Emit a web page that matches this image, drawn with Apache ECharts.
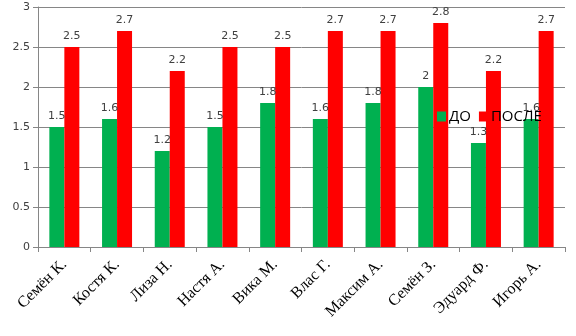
<!DOCTYPE html>
<html>
<head>
<meta charset="utf-8">
<script src="https://cdn.jsdelivr.net/npm/echarts@6/dist/echarts.min.js"></script>
<style>
  html, body { margin: 0; padding: 0; background: #fff; }
  #chart { width: 576px; height: 336px; }
</style>
</head>
<body>
<div id="chart"></div>
<script>
// Students and their scores before and after
const students = ['Семён К.', 'Костя К.', 'Лиза Н.', 'Настя А.', 'Вика М.', 'Влас Г.', 'Максим А.', 'Семён З.', 'Эдуард Ф.', 'Игорь А.'];
const before = [1.5, 1.6, 1.2, 1.5, 1.8, 1.6, 1.8, 2, 1.3, 1.6];
const after = [2.5, 2.7, 2.2, 2.5, 2.5, 2.7, 2.7, 2.8, 2.2, 2.7];
const seriesNames = ['ДО', 'ПОСЛЕ'];

const chart = echarts.init(document.getElementById('chart'));
const labelStyle = {
  show: true,
  position: 'top',
  distance: 5,
  color: '#404040',
  fontFamily: 'DejaVu Sans',
  fontSize: 11
};
chart.setOption({
  animation: false,
  legend: {
    left: 432,
    top: 104,
    itemWidth: 9,
    itemHeight: 10,
    itemGap: 8,
    icon: 'rect',
    textStyle: { fontFamily: 'Open Sans', fontSize: 15, color: '#000', padding: [0, 0, 0, -2] },
    data: seriesNames
  },
  grid: { left: 38, right: 11, top: 7, bottom: 89, containLabel: false },
  xAxis: {
    type: 'category',
    data: students,
    axisLine: { lineStyle: { color: '#868686' } },
    axisTick: { show: true, length: 5, lineStyle: { color: '#868686' } },
    axisLabel: {
      rotate: 45,
      margin: 15,
      fontFamily: 'Liberation Serif',
      fontSize: 16,
      color: '#000',
      interval: 0
    }
  },
  yAxis: {
    type: 'value',
    min: 0,
    max: 3,
    interval: 0.5,
    axisLine: { show: true, lineStyle: { color: '#868686' } },
    axisTick: { show: true, length: 5, inside: false, lineStyle: { color: '#868686' } },
    splitLine: { lineStyle: { color: '#868686' } },
    axisLabel: { fontFamily: 'DejaVu Sans', fontSize: 11, color: '#404040', margin: 8 }
  },
  series: [
    {
      name: seriesNames[0],
      type: 'bar',
      data: before,
      barWidth: 15,
      barGap: '0%',
      itemStyle: { color: '#00b050' },
      label: labelStyle
    },
    {
      name: seriesNames[1],
      type: 'bar',
      data: after,
      barWidth: 15,
      barGap: '0%',
      itemStyle: { color: '#ff0000' },
      label: labelStyle
    }
  ]
});
</script>
</body>
</html>
